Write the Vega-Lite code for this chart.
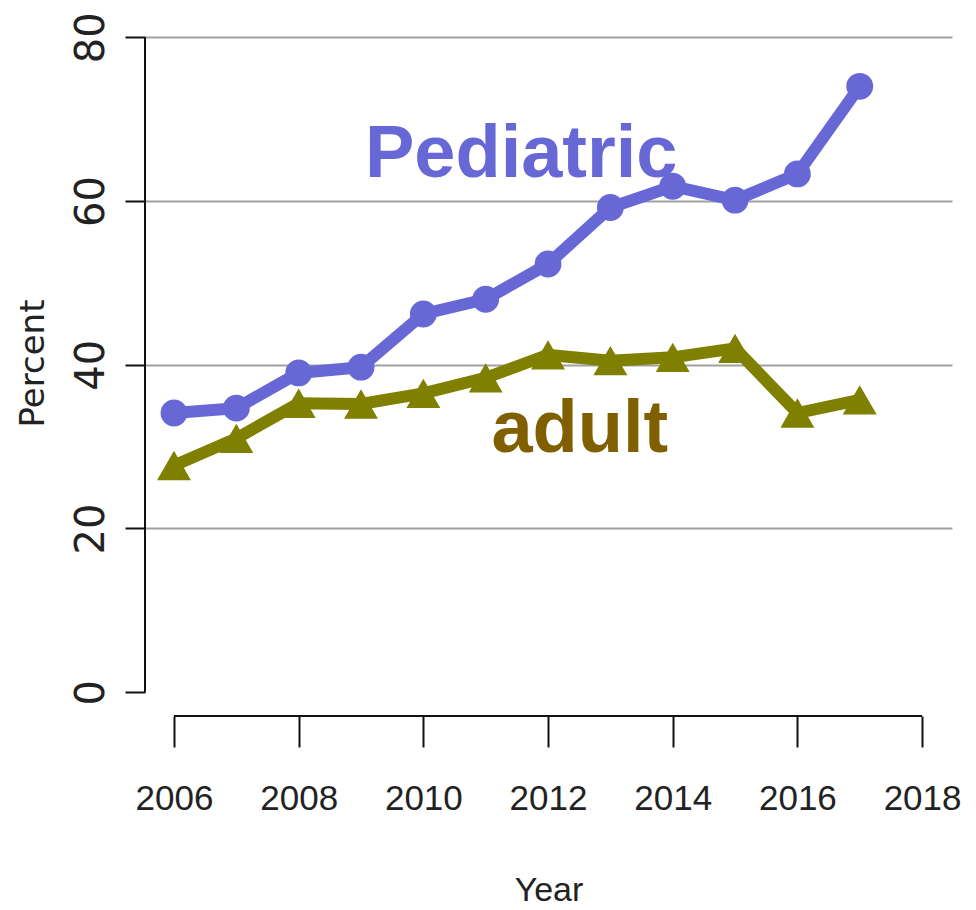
{
  "$schema": "https://vega.github.io/schema/vega-lite/v6.json",
  "width": 807,
  "height": 705,
  "autosize": {"type": "none"},
  "padding": {"left": 145, "top": 11, "right": 24, "bottom": 194},
  "background": "white",
  "config": {"view": {"stroke": null}, "font": "DejaVu Sans"},
  "data": {
    "values": [
      {"Year": 2006, "Series": "Pediatric", "Percent": 34.1},
      {"Year": 2007, "Series": "Pediatric", "Percent": 34.7},
      {"Year": 2008, "Series": "Pediatric", "Percent": 39.0},
      {"Year": 2009, "Series": "Pediatric", "Percent": 39.7},
      {"Year": 2010, "Series": "Pediatric", "Percent": 46.2},
      {"Year": 2011, "Series": "Pediatric", "Percent": 48.0},
      {"Year": 2012, "Series": "Pediatric", "Percent": 52.3},
      {"Year": 2013, "Series": "Pediatric", "Percent": 59.2},
      {"Year": 2014, "Series": "Pediatric", "Percent": 61.8},
      {"Year": 2015, "Series": "Pediatric", "Percent": 60.1},
      {"Year": 2016, "Series": "Pediatric", "Percent": 63.3},
      {"Year": 2017, "Series": "Pediatric", "Percent": 74.0},
      {"Year": 2006, "Series": "adult", "Percent": 27.7},
      {"Year": 2007, "Series": "adult", "Percent": 31.0},
      {"Year": 2008, "Series": "adult", "Percent": 35.3},
      {"Year": 2009, "Series": "adult", "Percent": 35.2},
      {"Year": 2010, "Series": "adult", "Percent": 36.5},
      {"Year": 2011, "Series": "adult", "Percent": 38.4},
      {"Year": 2012, "Series": "adult", "Percent": 41.2},
      {"Year": 2013, "Series": "adult", "Percent": 40.5},
      {"Year": 2014, "Series": "adult", "Percent": 40.9},
      {"Year": 2015, "Series": "adult", "Percent": 42.0},
      {"Year": 2016, "Series": "adult", "Percent": 34.1},
      {"Year": 2017, "Series": "adult", "Percent": 35.7}
    ]
  },
  "layer": [
    {
      "mark": {"type": "line", "strokeWidth": 12, "strokeCap": "butt"},
      "encoding": {
        "x": {
          "field": "Year", "type": "quantitative",
          "scale": {"domain": [2005.535, 2018.48], "nice": false, "zero": false},
          "axis": {
            "values": [2006, 2008, 2010, 2012, 2014, 2016, 2018],
            "format": "d", "domain": false, "grid": false,
            "tickSize": 31, "tickWidth": 2, "tickColor": "#111",
            "labelFont": "Liberation Sans", "labelFontSize": 35, "labelPadding": 34, "labelColor": "#222",
            "labelFlush": false, "labelOverlap": false,
            "title": "Year", "titleFont": "Liberation Sans", "titleFontSize": 34, "titleFontWeight": "normal",
            "titleColor": "#222", "titleY": 184, "titleBaseline": "alphabetic"
          }
        },
        "y": {
          "field": "Percent", "type": "quantitative",
          "scale": {"domain": [-2.9, 83.2], "nice": false, "zero": false},
          "axis": {
            "values": [0, 20, 40, 60, 80],
            "domain": false, "grid": true, "gridColor": "#a0a0a0", "gridWidth": 2,
            "gridOpacity": {"condition": {"test": "datum.value === 0", "value": 0}, "value": 1},
            "tickSize": 20, "tickWidth": 2, "tickColor": "#111",
            "labelAngle": -90, "labelAlign": "center", "labelBaseline": "bottom",
            "labelFont": "DejaVu Sans", "labelFontSize": 40, "labelPadding": 14, "labelColor": "#222",
            "labelFlush": false, "labelOverlap": false,
            "title": "Percent", "titleFont": "DejaVu Sans", "titleFontSize": 34, "titleFontWeight": "normal",
            "titleColor": "#222", "titleAngle": -90, "titleX": -112, "titleY": 352,
            "titleAlign": "center", "titleBaseline": "middle"
          }
        },
        "color": {
          "field": "Series", "type": "nominal",
          "scale": {"domain": ["Pediatric", "adult"], "range": ["#6767d6", "#7f7f00"]},
          "legend": null
        }
      }
    },
    {
      "mark": {"type": "point", "filled": true, "opacity": 1},
      "encoding": {
        "x": {"field": "Year", "type": "quantitative"},
        "y": {"field": "Percent", "type": "quantitative"},
        "color": {"field": "Series", "type": "nominal", "legend": null},
        "shape": {
          "field": "Series", "type": "nominal",
          "scale": {"domain": ["Pediatric", "adult"], "range": ["circle", "triangle-up"]},
          "legend": null
        },
        "size": {
          "field": "Series", "type": "nominal",
          "scale": {"domain": ["Pediatric", "adult"], "range": [720, 1150]},
          "legend": null
        }
      }
    },
    {
      "data": {"values": [{}]},
      "mark": {"type": "rule", "color": "#111", "strokeWidth": 2},
      "encoding": {"x": {"datum": 2005.535}, "y": {"datum": 0}, "y2": {"datum": 80}}
    },
    {
      "data": {"values": [{}]},
      "mark": {"type": "rule", "color": "#111", "strokeWidth": 2},
      "encoding": {"x": {"datum": 2006}, "x2": {"datum": 2018}, "y": {"datum": -2.9}}
    },
    {
      "data": {"values": [{"label": "Pediatric", "Year": 2011.57, "Percent": 62.9}]},
      "mark": {"type": "text", "font": "Liberation Sans", "fontWeight": "bold", "fontSize": 74, "color": "#6767d6", "align": "center", "baseline": "alphabetic"},
      "encoding": {"x": {"field": "Year", "type": "quantitative"}, "y": {"field": "Percent", "type": "quantitative"}, "text": {"field": "label"}}
    },
    {
      "data": {"values": [{"label": "adult", "Year": 2012.51, "Percent": 29.4}]},
      "mark": {"type": "text", "font": "Liberation Sans", "fontWeight": "bold", "fontSize": 74, "color": "#7f5f00", "align": "center", "baseline": "alphabetic"},
      "encoding": {"x": {"field": "Year", "type": "quantitative"}, "y": {"field": "Percent", "type": "quantitative"}, "text": {"field": "label"}}
    }
  ]
}
